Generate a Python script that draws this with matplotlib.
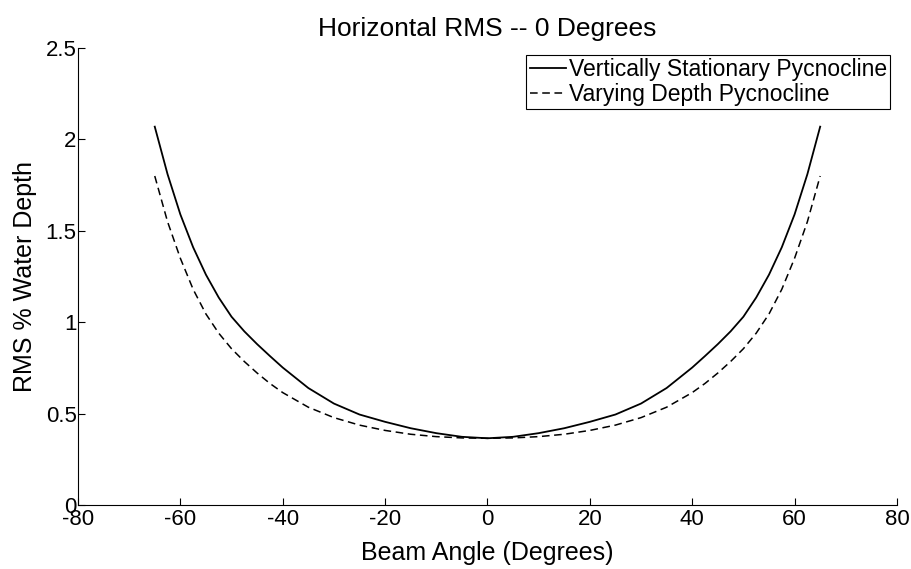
import numpy as np
import matplotlib
matplotlib.use('Agg')
import matplotlib.pyplot as plt

plt.rcParams['font.family'] = ['Liberation Sans', 'DejaVu Sans']
plt.rcParams['axes.unicode_minus'] = False

# beam angle (degrees)
angle = [-65, -62.5, -60, -57.5, -55, -52.5, -50, -47.5, -45, -42.5, -40, -35, -30, -25, -20, -15, -10, -5, 0,
         5, 10, 15, 20, 25, 30, 35, 40, 42.5, 45, 47.5, 50, 52.5, 55, 57.5, 60, 62.5, 65]

# RMS % water depth, vertically stationary pycnocline
rms_stationary = [2.07, 1.81, 1.59, 1.41, 1.26, 1.135, 1.03, 0.95, 0.88, 0.815, 0.752, 0.64, 0.555, 0.495,
                  0.455, 0.42, 0.393, 0.373, 0.365,
                  0.373, 0.393, 0.42, 0.455, 0.495, 0.555, 0.64, 0.752, 0.815, 0.88, 0.95, 1.03, 1.135,
                  1.26, 1.41, 1.59, 1.81, 2.07]

# RMS % water depth, varying depth pycnocline
rms_varying = [1.80, 1.55, 1.35, 1.18, 1.045, 0.94, 0.855, 0.785, 0.722, 0.665, 0.615, 0.535, 0.478, 0.437,
               0.408, 0.387, 0.374, 0.367, 0.365,
               0.367, 0.374, 0.387, 0.408, 0.437, 0.478, 0.535, 0.615, 0.665, 0.722, 0.785, 0.855, 0.94,
               1.045, 1.18, 1.35, 1.55, 1.80]

xticks = [-80, -60, -40, -20, 0, 20, 40, 60, 80]
yticks = [0, 0.5, 1, 1.5, 2, 2.5]
yticklabels = ['0', '0.5', '1', '1.5', '2', '2.5']

fig = plt.figure(figsize=(9.12, 5.69), dpi=100)
ax = fig.add_axes([0.0855, 0.1125, 0.898, 0.803])

ax.plot(angle, rms_stationary, 'k-', lw=1.3, label='Vertically Stationary Pycnocline')
ax.plot(angle, rms_varying, 'k--', lw=1.1, dashes=(5, 3), label='Varying Depth Pycnocline')

ax.set_xlim(-80, 80)
ax.set_ylim(0, 2.5)
ax.set_xticks(xticks)
ax.set_yticks(yticks)
ax.set_yticklabels(yticklabels)
ax.tick_params(direction='in', length=5, width=0.8, labelsize=16)
ax.tick_params(axis='x', pad=3)
ax.tick_params(axis='y', pad=1)
ax.spines['top'].set_visible(False)
ax.spines['right'].set_visible(False)

ax.set_title('Horizontal RMS -- 0 Degrees', fontsize=19, pad=9)
ax.set_xlabel('Beam Angle (Degrees)', fontsize=18, labelpad=8)
ax.set_ylabel('RMS % Water Depth', fontsize=18, labelpad=6)

leg = ax.legend(loc='upper right', fontsize=16.5, handlelength=1.6, handletextpad=0.1,
                borderpad=0.15, labelspacing=0.05, fancybox=False, framealpha=1,
                borderaxespad=0.3)
leg.get_frame().set_edgecolor('black')
leg.get_frame().set_linewidth(0.8)

fig.savefig('out.png', dpi=100)
